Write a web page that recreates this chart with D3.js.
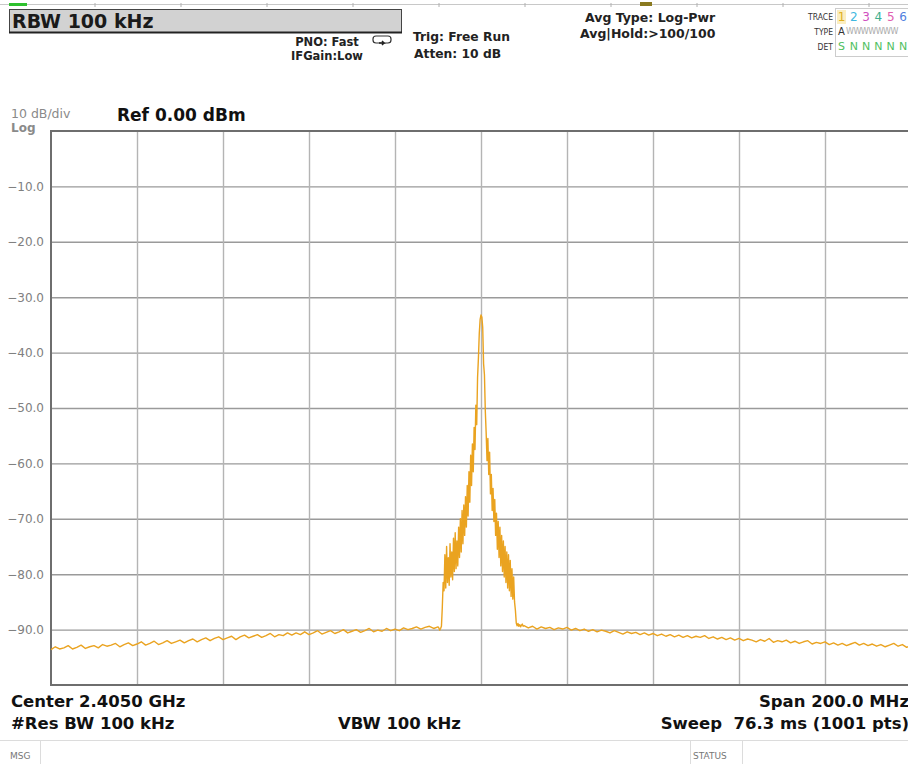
<!DOCTYPE html>
<html>
<head>
<meta charset="utf-8">
<script src="https://cdn.jsdelivr.net/npm/d3@7/dist/d3.min.js"></script>
<style>
  body { margin: 0; background: #fff; }
  svg { display: block; font-family: "DejaVu Sans", sans-serif; }
</style>
</head>
<body>
<div id="chart"></div>
<script>
// level ticks (dBm) and frequency grid (MHz offset from center)
var levelTicks = [-10, -20, -30, -40, -50, -60, -70, -80, -90];
var freqGrid = [-80, -60, -40, -20, 0, 20, 40, 60, 80];

// noise floor left of the carrier, -100 .. -10 MHz, 1 MHz apart (dBm)
var floorLeft = [
  -93.6, -93.1, -93.5, -93.3, -92.9, -93.5, -93.2, -92.8, -93.4, -93.1,
  -92.9, -93.3, -92.7, -93.0, -92.8, -92.5, -93.1, -92.7, -92.4, -92.9,
  -92.6, -92.2, -92.8, -92.5, -92.1, -92.7, -92.4, -92.0, -92.5, -92.2,
  -91.9, -92.4, -92.0, -91.7, -92.2, -91.8, -91.5, -92.0, -91.6, -91.3,
  -91.8, -91.5, -91.2, -91.8, -91.3, -91.0, -91.5, -91.2, -90.9, -91.4,
  -91.1, -90.7, -91.3, -90.9, -91.1, -90.6, -91.0, -90.6, -90.9, -90.4,
  -90.9, -90.6, -90.2, -90.8, -90.5, -90.2, -90.7, -90.4, -90.0, -90.6,
  -90.3, -90.0, -90.5, -90.2, -89.8, -90.4, -90.1, -90.3, -89.8, -90.2,
  -89.9, -90.2, -89.7, -90.0, -89.8, -89.5, -89.9, -89.6, -89.4, -89.8, -89.5
];

// carrier, -9.8 .. +9.8 MHz, 0.2 MHz apart (dBm)
var carrier = [
  -89.7, -90.1, -89.8, -89.4,
  -86.0, -81.5, -83.0, -76.5, -82.5, -75.0, -81.5, -77.0, -82.0, -74.5,
  -80.5, -76.0, -81.0, -73.5, -79.5, -72.5, -79.0, -74.0, -78.5, -71.5,
  -77.0, -70.0, -76.0, -68.5, -74.5, -67.5, -73.0, -66.0, -71.5, -64.0,
  -69.5, -61.5, -67.0, -58.5, -64.0, -56.5, -61.5, -53.5, -57.5, -49.5,
  -53.0, -44.5, -41.0, -36.5, -34.0,
  -33.2, -33.6, -35.5, -42.0, -44.0, -50.5, -54.5, -59.5, -55.5, -62.0,
  -58.0, -65.5, -62.0, -68.5, -64.5, -70.5, -66.5, -73.0, -69.0, -75.5,
  -70.5, -77.0, -71.5, -78.5, -73.0, -79.5, -74.0, -80.5, -75.0, -81.5,
  -76.0, -82.5, -76.5, -83.0, -77.5, -84.0, -79.0, -84.5, -80.5, -85.0,
  -86.5, -88.8, -89.3, -88.9, -89.4, -89.1, -89.5, -89.2, -89.0, -89.4
];

// noise floor right of the carrier, +10 .. +100 MHz, 1 MHz apart (dBm)
var floorRight = [
  -89.3, -89.7, -89.4, -89.9, -89.5, -89.8, -89.6, -90.0, -89.7, -89.9,
  -89.6, -90.1, -89.8, -90.2, -89.9, -90.3, -90.0, -90.4, -90.1, -90.3,
  -90.6, -90.2, -90.5, -90.8, -90.4, -90.7, -90.5, -90.9, -90.6, -91.0,
  -90.7, -91.1, -90.8, -91.2, -90.9, -91.3, -91.0, -91.4, -91.1, -91.5,
  -91.2, -91.4, -91.1, -91.6, -91.3, -91.7, -91.4, -91.8, -91.5, -91.9,
  -91.6, -92.0, -91.7, -91.9, -92.2, -91.8, -92.1, -91.6, -92.3, -92.0,
  -92.2, -91.9, -92.4, -92.1, -92.5, -92.2, -92.0, -92.6, -92.3, -92.5,
  -92.2, -92.7, -92.4, -92.8, -92.5, -92.9, -92.6, -92.3, -92.8, -92.5,
  -92.9, -92.6, -93.0, -92.7, -93.1, -92.8, -92.5, -93.0, -92.7, -93.2, -92.9
];

// trace legend
var traceNums = ["1", "2", "3", "4", "5", "6"];
var traceColors = ["#e0b020", "#40b8e0", "#d050c0", "#40b090", "#e060b0", "#5080e0"];
var detLetters = ["S", "N", "N", "N", "N", "N"];

var width = 908, height = 764;
var margin = { top: 131, left: 51, bottom: 79 };
var plotW = 860;

// build the trace points from the three pieces
var trace = [];
floorLeft.forEach(function(v, i) { trace.push({ f: -100 + i, v: v }); });
carrier.forEach(function(v, i) { trace.push({ f: -9.8 + i * 0.2, v: v }); });
floorRight.forEach(function(v, i) { trace.push({ f: 10 + i, v: v }); });

var svg = d3.select("#chart")
  .append("svg")
  .attr("width", width)
  .attr("height", height);

var xScale = d3.scaleLinear()
  .domain([-100, 100])
  .range([margin.left, margin.left + plotW]);

var yScale = d3.scaleLinear()
  .domain([-100, 0])
  .range([height - margin.bottom, margin.top]);

// ---- top status strip ----
svg.append("line")
  .attr("x1", 0).attr("x2", width)
  .attr("y1", 4.5).attr("y2", 4.5)
  .style("stroke", "#c8c8c8");
for (var t = 0; t < 10; t++) {
  svg.append("line")
    .attr("x1", 95 + t * 86).attr("x2", 95 + t * 86)
    .attr("y1", 3).attr("y2", 7)
    .style("stroke", "#b0b0b0");
}
svg.append("rect").attr("x", 9).attr("y", 3).attr("width", 18).attr("height", 3).style("fill", "#2ec02e");
svg.append("rect").attr("x", 640).attr("y", 2).attr("width", 12).attr("height", 4).style("fill", "#8a7a20");

svg.append("rect")
  .attr("x", 9.5).attr("y", 9.5)
  .attr("width", 392).attr("height", 23)
  .style("fill", "#d2d2d2")
  .style("stroke", "#444")
  .style("stroke-width", 1);
svg.append("line")
  .attr("x1", 9).attr("x2", 402).attr("y1", 32.5).attr("y2", 32.5)
  .style("stroke", "#222").style("stroke-width", 2);

svg.append("text")
  .attr("x", 12).attr("y", 28)
  .style("font-size", "19px").style("font-weight", "bold").style("fill", "#1a1a1a")
  .text("RBW 100 kHz");

var hdr = [
  { x: 327, y: 46, t: "PNO: Fast", a: "middle", s: 11.5 },
  { x: 327, y: 60, t: "IFGain:Low", a: "middle", s: 11.5 },
  { x: 413, y: 41, t: "Trig: Free Run", a: "start", s: 12.3 },
  { x: 414, y: 58, t: "Atten: 10 dB", a: "start", s: 12.3 },
  { x: 585, y: 22, t: "Avg Type: Log-Pwr", a: "start", s: 12.5 },
  { x: 580, y: 38, t: "Avg|Hold:>100/100", a: "start", s: 12.5 }
];
svg.selectAll("text.hdr")
  .data(hdr)
  .enter()
  .append("text")
  .attr("class", "hdr")
  .attr("x", function(d) { return d.x; })
  .attr("y", function(d) { return d.y; })
  .attr("text-anchor", function(d) { return d.a; })
  .style("font-size", function(d) { return d.s + "px"; })
  .style("font-weight", "bold")
  .style("fill", "#222")
  .text(function(d) { return d.t; });

// small trigger icon
svg.append("path")
  .attr("d", "M376,36 h12 a3,3 0 0 1 3,3 v1 a3,3 0 0 1 -3,3 h-12 a3,3 0 0 1 -3,-3 v-1 a3,3 0 0 1 3,-3 z")
  .style("fill", "none").style("stroke", "#333").style("stroke-width", 1.2);
svg.append("path")
  .attr("d", "M379,43 l5,0 l-2,-2 m2,2 l-2,2")
  .style("fill", "none").style("stroke", "#222").style("stroke-width", 1.5);

// trace legend box
var lg = svg.append("g");
lg.append("rect")
  .attr("x", 835.5).attr("y", 8.5).attr("width", 80).attr("height", 48)
  .style("fill", "none").style("stroke", "#ccc");
lg.selectAll("text.lab")
  .data(["TRACE", "TYPE", "DET"])
  .enter()
  .append("text")
  .attr("class", "lab")
  .attr("x", 833)
  .attr("y", function(d, i) { return 20 + i * 15; })
  .attr("text-anchor", "end")
  .style("font-size", "8.5px")
  .style("font-family", "'Liberation Sans Narrow', 'DejaVu Sans Condensed', sans-serif")
  .style("fill", "#333")
  .text(function(d) { return d; });
lg.append("rect").attr("x", 837).attr("y", 10).attr("width", 9).attr("height", 14).style("fill", "#fbeec0");
lg.selectAll("text.num")
  .data(traceNums)
  .enter()
  .append("text")
  .attr("class", "num")
  .attr("x", function(d, i) { return 841.5 + i * 12.3; })
  .attr("y", 21)
  .attr("text-anchor", "middle")
  .style("font-size", "12px")
  .style("fill", function(d, i) { return traceColors[i]; })
  .text(function(d) { return d; });
lg.append("text")
  .attr("x", 838).attr("y", 35)
  .style("font-size", "10px").style("fill", "#333")
  .text("A");
lg.append("text")
  .attr("x", 846).attr("y", 34)
  .style("font-size", "8px").style("fill", "#aaa").style("letter-spacing", "-0.5px")
  .text("WWWWWWW");
lg.selectAll("text.det")
  .data(detLetters)
  .enter()
  .append("text")
  .attr("class", "det")
  .attr("x", function(d, i) { return 841.5 + i * 12.3; })
  .attr("y", 50)
  .attr("text-anchor", "middle")
  .style("font-size", "11px")
  .style("fill", "#50c060")
  .text(function(d) { return d; });

// ---- scale labels ----
svg.append("text")
  .attr("x", 11).attr("y", 118)
  .style("font-size", "12.5px").style("fill", "#8a8a8a")
  .text("10 dB/div");
svg.append("text")
  .attr("x", 11).attr("y", 132)
  .style("font-size", "12px").style("font-weight", "bold").style("fill", "#8a8a8a")
  .text("Log");
svg.append("text")
  .attr("x", 117).attr("y", 121)
  .style("font-size", "17px").style("font-weight", "bold").style("fill", "#111")
  .text("Ref 0.00 dBm");

// ---- grid ----
svg.append("g")
  .attr("class", "y grid")
  .attr("transform", "translate(" + margin.left + ",0)")
  .call(d3.axisLeft(yScale)
    .tickValues(levelTicks)
    .tickSize(-plotW)
    .tickFormat(""))
  .call(function(g) { g.select(".domain").remove(); })
  .selectAll("line")
  .style("stroke", "#9a9a9a")
  .style("stroke-width", 1.4);

svg.append("g")
  .attr("class", "x grid")
  .attr("transform", "translate(0," + (height - margin.bottom) + ")")
  .call(d3.axisBottom(xScale)
    .tickValues(freqGrid)
    .tickSize(-(height - margin.bottom - margin.top))
    .tickFormat(""))
  .call(function(g) { g.select(".domain").remove(); })
  .selectAll("line")
  .style("stroke", "#b4b4b4")
  .style("stroke-width", 1.4);

// y tick labels
svg.append("g")
  .attr("class", "y axis")
  .attr("transform", "translate(" + (margin.left - 4) + ",0)")
  .call(d3.axisLeft(yScale)
    .tickValues(levelTicks)
    .tickSize(0)
    .tickFormat(d3.format(".1f")))
  .call(function(g) { g.select(".domain").remove(); })
  .selectAll("text")
  .style("font-family", "'DejaVu Sans', sans-serif")
  .style("font-size", "12px")
  .style("fill", "#808080");

// plot frame (left, top, bottom; right edge falls outside the window)
svg.append("path")
  .attr("d", "M" + (margin.left + plotW + 2) + "," + margin.top +
    "H" + margin.left + "V" + (height - margin.bottom) + "H" + (margin.left + plotW + 2))
  .style("fill", "none")
  .style("stroke", "#6e6e6e")
  .style("stroke-width", 2);

// ---- trace ----
var line = d3.line()
  .x(function(d) { return xScale(d.f); })
  .y(function(d) { return yScale(d.v); });

svg.append("path")
  .datum(trace)
  .attr("d", line)
  .style("fill", "none")
  .style("stroke", "#eaa320")
  .style("stroke-width", 1.4)
  .style("stroke-linejoin", "round");

// ---- bottom annotations ----
var foot = [
  { x: 11, y: 707, t: "Center 2.4050 GHz", a: "start" },
  { x: 11, y: 729, t: "#Res BW 100 kHz", a: "start" },
  { x: 338, y: 729, t: "VBW 100 kHz", a: "start" },
  { x: 909, y: 707, t: "Span 200.0 MHz", a: "end" },
  { x: 909, y: 729, t: "Sweep  76.3 ms (1001 pts)", a: "end" }
];
svg.selectAll("text.foot")
  .data(foot)
  .enter()
  .append("text")
  .attr("class", "foot")
  .attr("x", function(d) { return d.x; })
  .attr("y", function(d) { return d.y; })
  .attr("text-anchor", function(d) { return d.a; })
  .style("font-size", "16.5px")
  .style("font-weight", "bold")
  .style("fill", "#111")
  .style("white-space", "pre")
  .text(function(d) { return d.t; });

// message / status bar
svg.append("line").attr("x1", 0).attr("x2", width).attr("y1", 740.5).attr("y2", 740.5)
  .style("stroke", "#dcdcdc");
[40.5, 690.5, 742.5].forEach(function(x) {
  svg.append("line").attr("x1", x).attr("x2", x).attr("y1", 741).attr("y2", height)
    .style("stroke", "#dcdcdc");
});
svg.append("text").attr("x", 10).attr("y", 759)
  .style("font-size", "9px").style("fill", "#777").text("MSG");
svg.append("text").attr("x", 693).attr("y", 759)
  .style("font-size", "9px").style("fill", "#777").text("STATUS");
</script>
</body>
</html>
